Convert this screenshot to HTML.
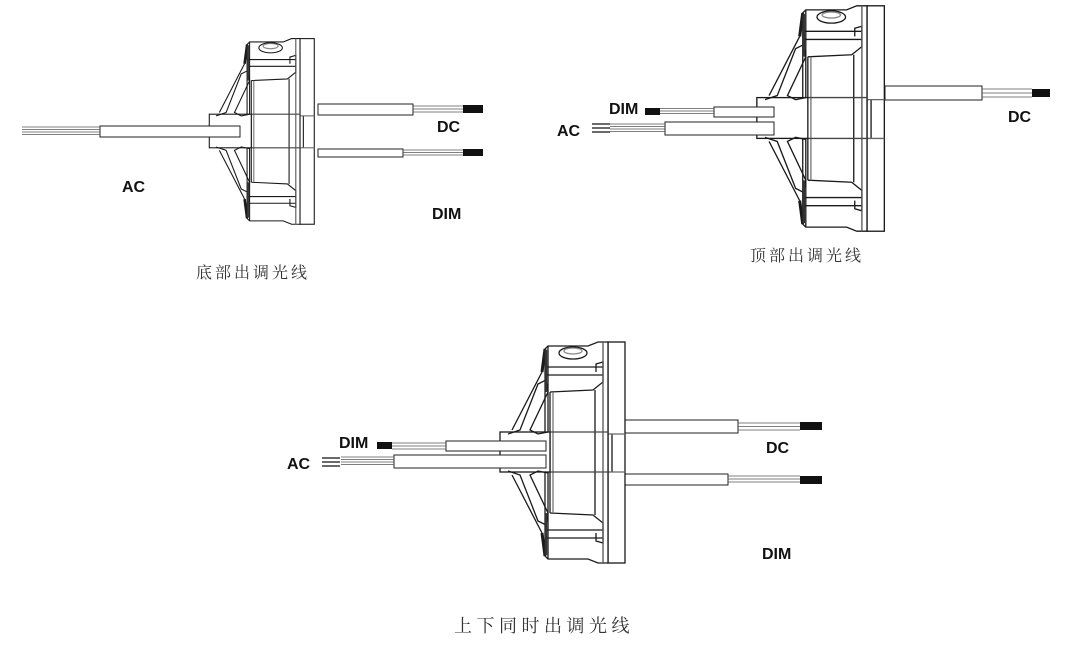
<!DOCTYPE html>
<html><head><meta charset="utf-8"><style>
html,body{margin:0;padding:0;background:#fff;}
svg{display:block}
.l{font-family:"Liberation Sans",Arial,sans-serif;font-weight:bold;font-size:16px;fill:#111}
.c{font-family:"Noto Serif CJK SC","Noto Sans CJK SC",serif;fill:#333}
</style></head><body>
<svg width="1080" height="652" viewBox="0 0 1080 652" xmlns="http://www.w3.org/2000/svg">
<defs>
<g id="body" fill="none" stroke="#1a1a1a" stroke-width="1.3">
  <rect x="0" y="-110" width="17" height="221" fill="#fff"/>
  <line x1="4" y1="-18" x2="4" y2="20"/>
  <line x1="0" y1="-18" x2="17" y2="-18" stroke="#666"/>
  <line x1="0" y1="20" x2="17" y2="20" stroke="#666"/>
  <path d="M-63,-103 L-60,-106 L-20,-106 L-10,-110 L0,-110 L0,111 L-10,111 L-20,107 L-60,107 L-63,104 Z" fill="#fff"/>
  <ellipse cx="-35" cy="-99" rx="14" ry="6"/>
  <ellipse cx="-35" cy="-101" rx="9" ry="3" stroke="#888"/>
  <line x1="-63" y1="-85" x2="-5" y2="-85"/>
  <line x1="-63" y1="-77" x2="-5" y2="-77"/>
  <line x1="-63" y1="78" x2="-5" y2="78"/>
  <line x1="-63" y1="86" x2="-5" y2="86"/>
  <path d="M-58,-60 L-15,-62 L-5,-70 L-5,-90 L-12,-88 L-12,-80"/>
  <path d="M-58,61 L-15,63 L-5,71 L-5,91 L-12,89 L-12,81"/>
  <line x1="-13" y1="-62" x2="-13" y2="63"/>
  <line x1="-58" y1="-60" x2="-58" y2="61"/>
  <line x1="-55" y1="-60" x2="-55" y2="61" stroke="#777"/>
  <line x1="-60" y1="-106" x2="-60" y2="107"/>
  <line x1="-58" y1="-20" x2="0" y2="-20" stroke="#444"/>
  <line x1="-58" y1="20" x2="0" y2="20" stroke="#444"/>
  <line x1="-5" y1="-110" x2="-5" y2="111" stroke="#555"/>
  <rect x="-108" y="-20" width="50" height="40" fill="#fff"/>
  <path d="M-100,-18 L-88,-22 L-70,-68 L-62,-72 L-60,-60 L-78,-22 L-70,-18 L-60,-20"/>
  <path d="M-96,-22 L-66,-80"/>
  <path d="M-100,19 L-88,23 L-70,69 L-62,73 L-60,61 L-78,23 L-70,19 L-60,21"/>
  <path d="M-96,23 L-66,81"/>
  <path d="M-63,-103 L-66,-80 M-63,104 L-66,81" stroke-width="3"/>
  <path d="M-62,-102 L-62,-60 M-62,61 L-62,103" stroke-width="2.5" stroke="#333"/>
</g>
</defs>

<g>
  <rect x="318" y="104" width="95" height="11" fill="#fff" stroke="#222"/>
  <g stroke="#555" stroke-width="0.8"><line x1="413" y1="106" x2="463" y2="106"/><line x1="413" y1="109" x2="463" y2="109"/><line x1="413" y1="112" x2="463" y2="112"/></g>
  <rect x="463" y="105" width="20" height="8" fill="#111"/>
  <rect x="318" y="149" width="85" height="8" fill="#fff" stroke="#222"/>
  <g stroke="#555" stroke-width="0.8"><line x1="403" y1="150" x2="463" y2="150"/><line x1="403" y1="152.5" x2="463" y2="152.5"/><line x1="403" y1="155" x2="463" y2="155"/></g>
  <rect x="463" y="149" width="20" height="7" fill="#111"/>
  <g transform="translate(300,131) scale(0.84)"><use href="#body"/></g>
  <rect x="100" y="126" width="140" height="11" fill="#fff" stroke="#222"/>
  <g stroke="#555" stroke-width="0.8"><line x1="22" y1="127" x2="100" y2="127"/><line x1="22" y1="129.5" x2="100" y2="129.5"/><line x1="22" y1="132" x2="100" y2="132"/><line x1="22" y1="134.5" x2="100" y2="134.5"/></g>
  <text class="l" x="122" y="192">AC</text>
  <text class="l" x="437" y="132">DC</text>
  <text class="l" x="432" y="219">DIM</text>
  <text class="c" x="196" y="278" font-size="16" letter-spacing="3">底部出调光线</text>
</g>

<g>
  <rect x="885" y="86" width="97" height="14" fill="#fff" stroke="#222"/>
  <g stroke="#555" stroke-width="0.8"><line x1="982" y1="89" x2="1032" y2="89"/><line x1="982" y1="93" x2="1032" y2="93"/><line x1="982" y1="97" x2="1032" y2="97"/></g>
  <rect x="1032" y="89" width="18" height="8" fill="#111"/>
  <g transform="translate(867,118) scale(1.02)"><use href="#body"/></g>
  <rect x="714" y="107" width="60" height="10" fill="#fff" stroke="#222"/>
  <g stroke="#555" stroke-width="0.8"><line x1="660" y1="108.5" x2="714" y2="108.5"/><line x1="660" y1="111" x2="714" y2="111"/><line x1="660" y1="113.5" x2="714" y2="113.5"/></g>
  <rect x="645" y="108" width="15" height="7" fill="#111"/>
  <rect x="665" y="122" width="109" height="13" fill="#fff" stroke="#222"/>
  <g stroke="#555" stroke-width="0.8"><line x1="610" y1="124" x2="665" y2="124"/><line x1="610" y1="126.5" x2="665" y2="126.5"/><line x1="610" y1="129" x2="665" y2="129"/><line x1="610" y1="131.5" x2="665" y2="131.5"/></g>
  <g stroke="#111" stroke-width="1.3"><line x1="592" y1="124" x2="610" y2="124"/><line x1="592" y1="128" x2="610" y2="128"/><line x1="592" y1="132" x2="610" y2="132"/></g>
  <text class="l" x="609" y="114">DIM</text>
  <text class="l" x="557" y="136">AC</text>
  <text class="l" x="1008" y="122">DC</text>
  <text class="c" x="750" y="261" font-size="16" letter-spacing="3">顶部出调光线</text>
</g>

<g>
  <rect x="625" y="420" width="113" height="13" fill="#fff" stroke="#222"/>
  <g stroke="#555" stroke-width="0.8"><line x1="738" y1="423" x2="800" y2="423"/><line x1="738" y1="426.5" x2="800" y2="426.5"/><line x1="738" y1="430" x2="800" y2="430"/></g>
  <rect x="800" y="422" width="22" height="8" fill="#111"/>
  <rect x="625" y="474" width="103" height="11" fill="#fff" stroke="#222"/>
  <g stroke="#555" stroke-width="0.8"><line x1="728" y1="476" x2="800" y2="476"/><line x1="728" y1="479" x2="800" y2="479"/><line x1="728" y1="482" x2="800" y2="482"/></g>
  <rect x="800" y="476" width="22" height="8" fill="#111"/>
  <g transform="translate(608,452)"><use href="#body"/></g>
  <rect x="446" y="441" width="100" height="10" fill="#fff" stroke="#222"/>
  <g stroke="#555" stroke-width="0.8"><line x1="392" y1="443" x2="446" y2="443"/><line x1="392" y1="446" x2="446" y2="446"/><line x1="392" y1="449" x2="446" y2="449"/></g>
  <rect x="377" y="442" width="15" height="7" fill="#111"/>
  <rect x="394" y="455" width="152" height="13" fill="#fff" stroke="#222"/>
  <g stroke="#555" stroke-width="0.8"><line x1="341" y1="457" x2="394" y2="457"/><line x1="341" y1="459.5" x2="394" y2="459.5"/><line x1="341" y1="462" x2="394" y2="462"/><line x1="341" y1="464.5" x2="394" y2="464.5"/></g>
  <g stroke="#111" stroke-width="1.3"><line x1="322" y1="458" x2="340" y2="458"/><line x1="322" y1="462" x2="340" y2="462"/><line x1="322" y1="466" x2="340" y2="466"/></g>
  <text class="l" x="339" y="448">DIM</text>
  <text class="l" x="287" y="469">AC</text>
  <text class="l" x="766" y="453">DC</text>
  <text class="l" x="762" y="559">DIM</text>
  <text class="c" x="454" y="632" font-size="18" letter-spacing="4.5">上下同时出调光线</text>
</g>
</svg>
</body></html>
